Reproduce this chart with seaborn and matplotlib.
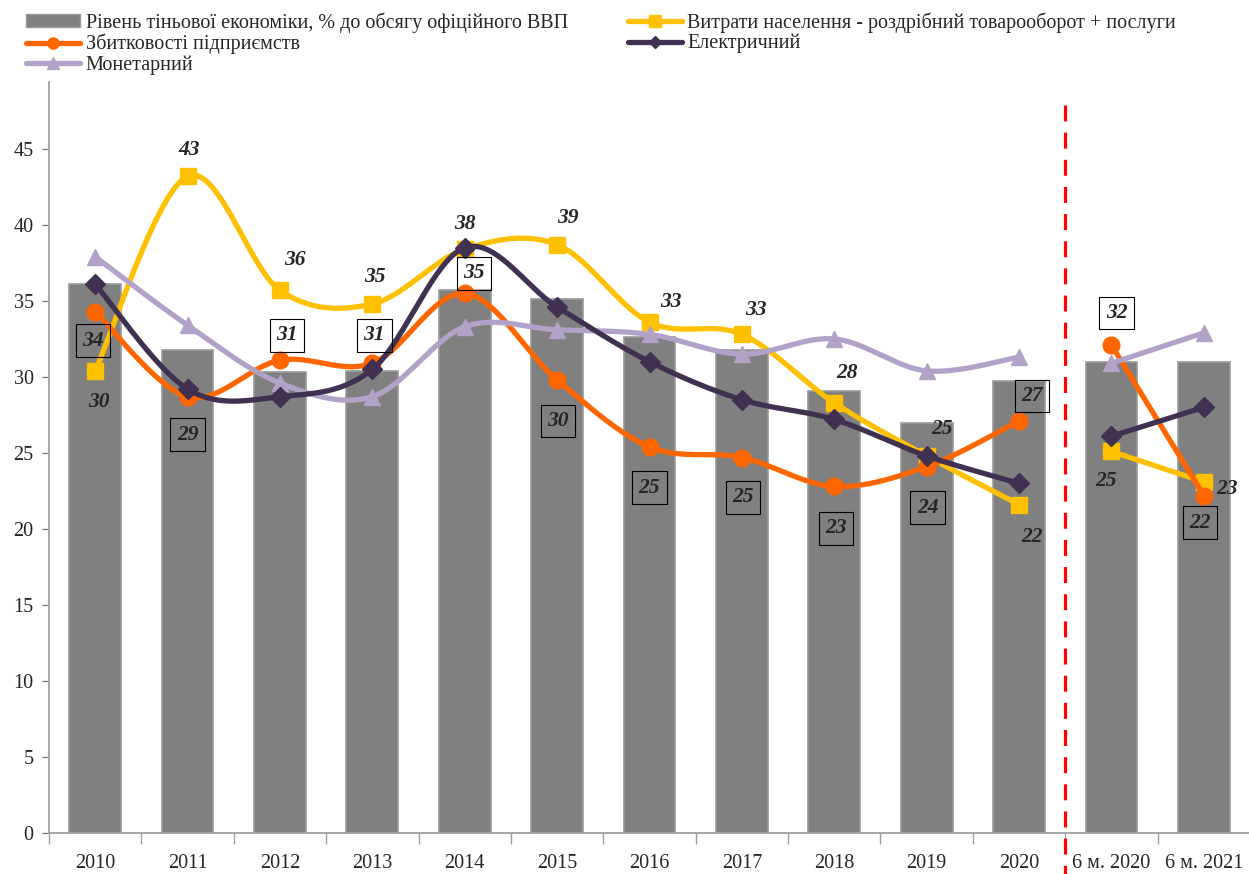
import numpy as np
import pandas as pd
import seaborn as sns
import matplotlib
matplotlib.use("Agg")
import matplotlib.pyplot as plt
from matplotlib.lines import Line2D
from matplotlib.patches import Patch

# ---------------- data ----------------
categories = ["2010", "2011", "2012", "2013", "2014", "2015", "2016", "2017",
              "2018", "2019", "2020", "6 м. 2020", "6 м. 2021"]
shadow = [36.1, 31.8, 30.3, 30.4, 35.7, 35.1, 32.6, 31.8, 29.1, 27.0, 29.7, 31.0, 31.0]
spending = [30.4, 43.2, 35.7, 34.8, 38.4, 38.7, 33.6, 32.8, 28.3, 24.8, 21.6, 25.1, 23.1]
losses = [34.3, 28.7, 31.1, 30.9, 35.5, 29.8, 25.4, 24.7, 22.8, 24.1, 27.1, 32.1, 22.2]
electric = [36.1, 29.2, 28.7, 30.5, 38.5, 34.6, 31.0, 28.5, 27.2, 24.8, 23.0, 26.1, 28.0]
monetary = [37.9, 33.4, 29.6, 28.7, 33.3, 33.1, 32.8, 31.5, 32.5, 30.4, 31.3, 30.9, 32.9]
spending_labels = ["30", "43", "36", "35", "38", "39", "33", "33", "28", "25", "22", "25", "23"]
losses_labels = ["34", "29", "31", "31", "35", "30", "25", "25", "23", "24", "27", "32", "22"]

names = {
    "bar": "Рівень тіньової економіки, % до обсягу офіційного ВВП",
    "spend": "Витрати населення - роздрібний товарооборот + послуги",
    "loss": "Збитковості підприємств",
    "elec": "Електричний",
    "mon": "Монетарний",
}

# ---------------- style ----------------
sns.set_style("white")
plt.rcParams["font.family"] = ["Liberation Serif", "DejaVu Serif"]

fig = plt.figure(figsize=(12.49, 8.74), dpi=100)
ax = fig.add_axes([49 / 1249, 1 - 833 / 874, 1201 / 1249, (833 - 82) / 874])

df = pd.DataFrame({"cat": categories, "val": shadow})
sns.barplot(data=df, x="cat", y="val", color="#808080", width=0.56,
            edgecolor="#9a9a9a", linewidth=1.2, saturation=1, ax=ax, zorder=1)


def smooth(xs, ys, n=40):
    pts = np.column_stack([xs, ys]).astype(float)
    out = []
    for i in range(len(pts) - 1):
        p0 = pts[i - 1] if i > 0 else pts[i]
        p1, p2 = pts[i], pts[i + 1]
        p3 = pts[i + 2] if i + 2 < len(pts) else pts[i + 1]
        c1 = p1 + (p2 - p0) / 6
        c2 = p2 - (p3 - p1) / 6
        t = np.linspace(0, 1, n)[:, None]
        seg = (1 - t) ** 3 * p1 + 3 * (1 - t) ** 2 * t * c1 + 3 * (1 - t) * t ** 2 * c2 + t ** 3 * p2
        out.append(seg if i == 0 else seg[1:])
    return np.vstack(out)


series = [
    (spending, "#FFC000", "s", 11, 3),
    (losses, "#FF6600", "o", 12, 4),
    (monetary, "#B2A2C7", "^", 12, 5),
    (electric, "#403151", "D", 10, 6),
]
x = np.arange(len(categories))
for vals, col, mk, ms, z in series:
    v = np.array(vals)
    for a, b in [(0, 11), (11, 13)]:
        c = smooth(x[a:b], v[a:b])
        ax.plot(c[:, 0], c[:, 1], color=col, lw=3.8, zorder=z, solid_capstyle="round")
    ax.plot(x, v, ls="none", marker=mk, ms=ms, color=col, zorder=z)

# labels
spend_off = [(4, -31), (2, 26), (15, 30), (3, 27), (0, 25), (11, 27), (21, 20),
             (14, 24), (13, 30), (15, 27), (13, -32), (-5, -30), (23, -7)]
loss_off = [(-2, -29), (0, -38), (7, 25), (2, 28), (9, 20), (1, -41), (0, -41),
            (1, -40), (2, -42), (1, -41), (13, 25), (5, 32), (-4, -27)]
lab_font = dict(fontsize=15.5, fontweight="bold", fontstyle="italic", ha="center", va="center")
for i in range(len(categories)):
    ax.annotate(spending_labels[i], (x[i], spending[i]), xytext=spend_off[i],
                textcoords="offset pixels", zorder=8, **lab_font)
    ax.annotate(losses_labels[i], (x[i], losses[i]), xytext=loss_off[i],
                textcoords="offset pixels", zorder=8,
                bbox=dict(boxstyle="square,pad=0.3", fc="none", ec="black", lw=0.8),
                **lab_font)

# red dashed separator
ax.plot([10.5, 10.5], [47.9, -2.8], color="#FF0000", lw=2.3, dashes=(5, 3.5),
        clip_on=False, zorder=7)

# axes
ax.set_xlim(-0.5, 12.5)
ax.set_ylim(0, 49.4)
ax.set_yticks(np.arange(0, 50, 5))
ax.set_xlabel("")
ax.set_ylabel("")
for s in ["top", "right"]:
    ax.spines[s].set_visible(False)
for s in ["left", "bottom"]:
    ax.spines[s].set_color("#a0a0a0")
    ax.spines[s].set_linewidth(1.3)
ax.tick_params(axis="y", which="major", length=5, color="#808080", width=1,
               labelsize=14.5, direction="out", left=True, pad=6)
ax.tick_params(axis="x", which="major", length=0, labelsize=14.5, pad=15)
ax.set_xticks(np.arange(-0.5, 13, 1), minor=True)
ax.tick_params(axis="x", which="minor", length=8, color="#a0a0a0", width=1, direction="out", bottom=True)

# legend
handles = [
    Patch(facecolor="#808080", edgecolor="#9a9a9a", label=names["bar"]),
    Line2D([], [], color="#FF6600", lw=3.8, marker="o", ms=8, label=names["loss"]),
    Line2D([], [], color="#B2A2C7", lw=3.8, marker="^", ms=8, label=names["mon"]),
    Line2D([], [], color="#FFC000", lw=3.8, marker="s", ms=8, label=names["spend"]),
    Line2D([], [], color="#403151", lw=3.8, marker="D", ms=6, label=names["elec"]),
]
fig.legend(handles=handles, ncol=2, loc="upper left", bbox_to_anchor=(12 / 1249, 1 + 2 / 874),
           frameon=False, fontsize=14.5, handlelength=2.7, handleheight=0.55,
           handletextpad=0.25, columnspacing=3.0, labelspacing=0.05, borderpad=0.2)

fig.savefig("out.png", dpi=100)
